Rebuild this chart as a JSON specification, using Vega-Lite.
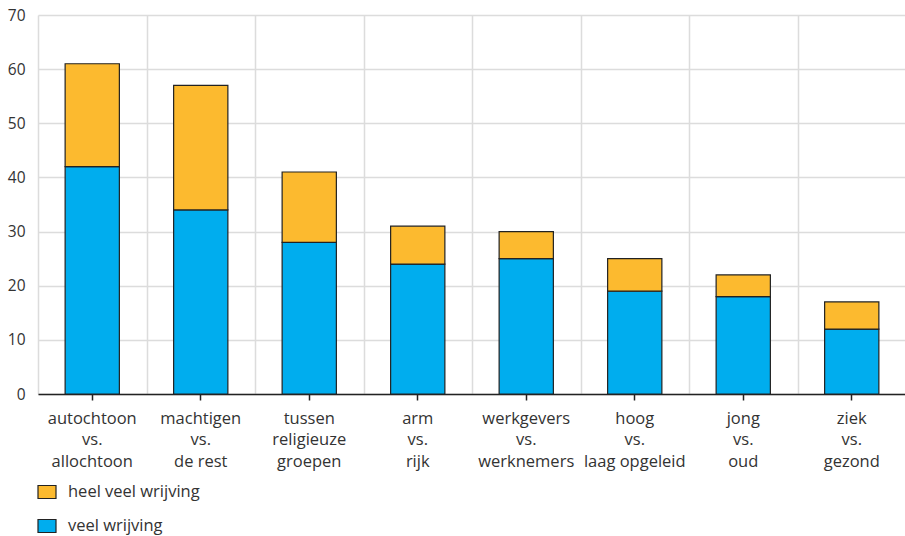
{
  "$schema": "https://vega.github.io/schema/vega-lite/v6.json",
  "width": 868,
  "height": 379,
  "autosize": "none",
  "padding": {"left": 38, "top": 15, "right": 0, "bottom": 142},
  "background": "white",
  "config": {
    "view": {"stroke": null},
    "font": "Open Sans",
    "axis": {"labelFont": "Open Sans", "labelColor": "#333333", "titleFont": "Open Sans"},
    "legend": {"labelFont": "Open Sans"}
  },
  "data": {
    "values": [
      {"groep": "autochtoon|vs.|allochtoon", "soort": "veel wrijving", "waarde": 42},
      {"groep": "autochtoon|vs.|allochtoon", "soort": "heel veel wrijving", "waarde": 19},
      {"groep": "machtigen|vs.|de rest", "soort": "veel wrijving", "waarde": 34},
      {"groep": "machtigen|vs.|de rest", "soort": "heel veel wrijving", "waarde": 23},
      {"groep": "tussen|religieuze|groepen", "soort": "veel wrijving", "waarde": 28},
      {"groep": "tussen|religieuze|groepen", "soort": "heel veel wrijving", "waarde": 13},
      {"groep": "arm|vs.|rijk", "soort": "veel wrijving", "waarde": 24},
      {"groep": "arm|vs.|rijk", "soort": "heel veel wrijving", "waarde": 7},
      {"groep": "werkgevers|vs.|werknemers", "soort": "veel wrijving", "waarde": 25},
      {"groep": "werkgevers|vs.|werknemers", "soort": "heel veel wrijving", "waarde": 5},
      {"groep": "hoog|vs.|laag opgeleid", "soort": "veel wrijving", "waarde": 19},
      {"groep": "hoog|vs.|laag opgeleid", "soort": "heel veel wrijving", "waarde": 6},
      {"groep": "jong|vs.|oud", "soort": "veel wrijving", "waarde": 18},
      {"groep": "jong|vs.|oud", "soort": "heel veel wrijving", "waarde": 4},
      {"groep": "ziek|vs.|gezond", "soort": "veel wrijving", "waarde": 12},
      {"groep": "ziek|vs.|gezond", "soort": "heel veel wrijving", "waarde": 5}
    ]
  },
  "layer": [
    {
      "mark": {"type": "point", "opacity": 0},
      "encoding": {
        "x": {
          "field": "groep", "type": "nominal", "sort": null,
          "scale": {"paddingInner": 0, "paddingOuter": 0},
          "axis": {"orient": "bottom", "grid": true, "tickBand": "extent", "labels": false, "ticks": false, "domain": false, "title": null, "gridColor": "#dcdcdc", "gridWidth": 1.5}
        }
      }
    },
    {
      "mark": {"type": "bar", "width": {"band": 0.5}, "stroke": "#222222", "strokeWidth": 1.2},
      "encoding": {
        "x": {
          "field": "groep", "type": "nominal", "sort": null,
          "scale": {"paddingInner": 0, "paddingOuter": 0},
          "axis": {
            "orient": "bottom",
            "title": null, "grid": false, "labelAngle": 0,
            "labelExpr": "split(datum.label, '|')",
            "labelFontSize": 16.5, "labelLineHeight": 21.5, "labelPadding": 10,
            "domainColor": "#222222", "domainWidth": 1.5,
            "tickColor": "#222222", "tickWidth": 1.5, "tickSize": 6
          }
        },
        "y": {
          "field": "waarde", "type": "quantitative", "stack": "zero",
          "scale": {"domain": [0, 70]},
          "axis": {
            "title": null, "values": [0, 10, 20, 30, 40, 50, 60, 70],
            "domain": false, "ticks": false, "labelPadding": 13,
            "labelFontSize": 15.5, "gridColor": "#dcdcdc", "gridWidth": 1.5
          }
        },
        "color": {
          "field": "soort", "type": "nominal",
          "scale": {"domain": ["heel veel wrijving", "veel wrijving"], "range": ["#FCBA2F", "#00ADEE"]},
          "legend": {
            "title": null, "orient": "none", "legendX": -1, "legendY": 467,
            "direction": "vertical",
            "symbolType": "M-1,-0.72H1V0.72H-1Z", "symbolSize": 324,
            "symbolStrokeColor": "#222222", "symbolStrokeWidth": 1.2,
            "symbolOpacity": 1,
            "labelFontSize": 16.5, "labelColor": "#333333", "labelOffset": 11,
            "rowPadding": 15
          }
        },
        "order": {"field": "soort", "sort": "descending"}
      }
    }
  ],
  "resolve": {"axis": {"x": "independent"}}
}
